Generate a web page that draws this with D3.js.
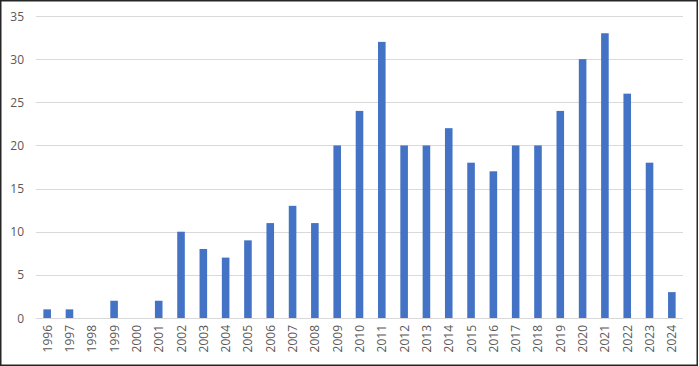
<!DOCTYPE html>
<html>
<head>
<meta charset="utf-8">
<script src="https://cdn.jsdelivr.net/npm/d3@7"></script>
<style>
  body { margin: 0; background: #fff; }
  svg { display: block; }
  text { font-family: "Open Sans", "Liberation Sans", sans-serif; fill: #595959; }
</style>
</head>
<body>
<script>
'use strict';

// years on the x axis
const years = ["1996", "1997", "1998", "1999", "2000", "2001", "2002", "2003", "2004", "2005",
  "2006", "2007", "2008", "2009", "2010", "2011", "2012", "2013", "2014", "2015",
  "2016", "2017", "2018", "2019", "2020", "2021", "2022", "2023", "2024"];

// counts per year
const counts = [1, 1, 0, 2, 0, 2, 10, 8, 7, 9,
  11, 13, 11, 20, 24, 32, 20, 20, 22, 18,
  17, 20, 20, 24, 30, 33, 26, 18, 3];

const yTicks = [0, 5, 10, 15, 20, 25, 30, 35];

const width = 699, height = 366;
const svg = d3.select('body').append('svg')
  .attr('width', width)
  .attr('height', height);

// outer frame
svg.append('rect')
  .attr('x', 0.75).attr('y', 0.75)
  .attr('width', width - 2.5).attr('height', height - 1.5)
  .attr('fill', 'none')
  .attr('stroke', '#262626')
  .attr('stroke-width', 1.5);

const x = d3.scaleBand()
  .domain(years)
  .range([36, 683])
  .paddingInner(0.66)
  .paddingOuter(0.33);

const y = d3.scaleLinear()
  .domain([0, 35])
  .range([318, 16]);

// gridlines
svg.append('g')
  .selectAll('line')
  .data(yTicks)
  .enter()
  .append('line')
  .attr('x1', 36).attr('x2', 683)
  .attr('y1', d => Math.round(y(d)) + 0.5)
  .attr('y2', d => Math.round(y(d)) + 0.5)
  .attr('stroke', '#d9d9d9')
  .attr('stroke-width', 1.2);

// y labels
svg.append('g')
  .selectAll('text')
  .data(yTicks)
  .enter()
  .append('text')
  .attr('x', 24)
  .attr('y', d => y(d) + 4.5)
  .attr('text-anchor', 'end')
  .style('font-size', '12px')
  .text(d => d);

// bars
svg.append('g')
  .selectAll('rect')
  .data(counts)
  .enter()
  .append('rect')
  .attr('x', (d, i) => x(years[i]))
  .attr('y', d => y(d))
  .attr('width', x.bandwidth())
  .attr('height', d => y(0) - y(d))
  .attr('fill', '#4472c4');

// x labels, rotated
svg.append('g')
  .selectAll('text')
  .data(years)
  .enter()
  .append('text')
  .attr('transform', d => 'translate(' + (x(d) + x.bandwidth() / 2 + 4.5) + ',325)rotate(-90)')
  .attr('text-anchor', 'end')
  .style('font-size', '12px')
  .text(d => d);
</script>
</body>
</html>
